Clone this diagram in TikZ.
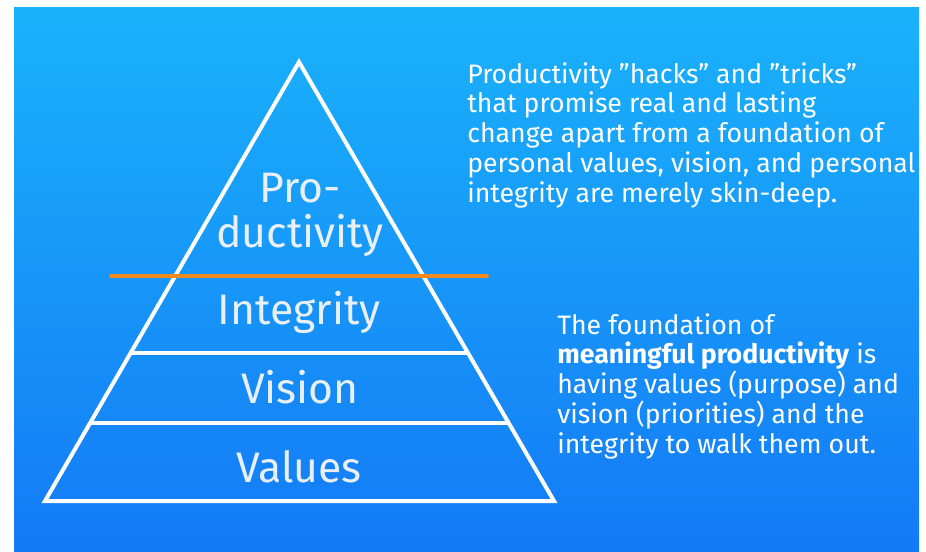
\documentclass[tikz,border=0pt]{standalone}
\usepackage{fontspec}
\setmainfont{Fira Sans}
\usepackage{xcolor}
\usetikzlibrary{positioning,calc}

\definecolor{skytop}{RGB}{26,178,251}
\definecolor{skybot}{RGB}{20,122,246}
\definecolor{chalk}{RGB}{232,240,246}
\definecolor{cutline}{RGB}{240,138,30}

\begin{document}
\begin{tikzpicture}[x=0.75pt, y=-0.75pt,
  lvl/.style={text=chalk, align=center, font=\fontsize{32}{34}\selectfont},
  txt/.style={text=white, align=left, anchor=north west, inner sep=0pt,
    font=\fontsize{20}{22.3}\selectfont},
  edge/.style={draw=white, line width=3pt},
  cut/.style={draw=cutline, line width=3pt, line cap=round}]
\useasboundingbox (0,0) rectangle (926,551);
\shade[top color=skytop, bottom color=skybot] (14,7) rectangle (919,551);

% pyramid outline and layers
\coordinate (top) at (299,62);
\coordinate (bl) at (45,501);
\coordinate (br) at (554,501);
\draw[edge, line join=miter] (top) -- (bl) -- (br) -- cycle;
\draw[edge] ($(top)!0.663!(bl)$) -- ($(top)!0.663!(br)$);
\draw[edge] ($(top)!0.822!(bl)$) -- ($(top)!0.822!(br)$);
\draw[cut] (111,276) -- (487,276);

\node[lvl] (prod) at (300,215) {Pro-\\ductivity};
\node[lvl] (integ) at (299,312) {Integrity};
\node[lvl] (vis) at (300,387) {Vision};
\node[lvl] (val) at (299,467) {Values};

% side notes
\node[txt] (hacks) at (467,62) {Productivity ”hacks” and ”tricks”\\
  that promise real and lasting\\
  change apart from a foundation of\\
  personal values, vision, and personal\\
  integrity are merely skin-deep.};
\node[txt] (found) at (557,313) {The foundation of\\
  \textbf{meaningful productivity} is\\
  having values (purpose) and\\
  vision (priorities) and the\\
  integrity to walk them out.};
\end{tikzpicture}
\end{document}
